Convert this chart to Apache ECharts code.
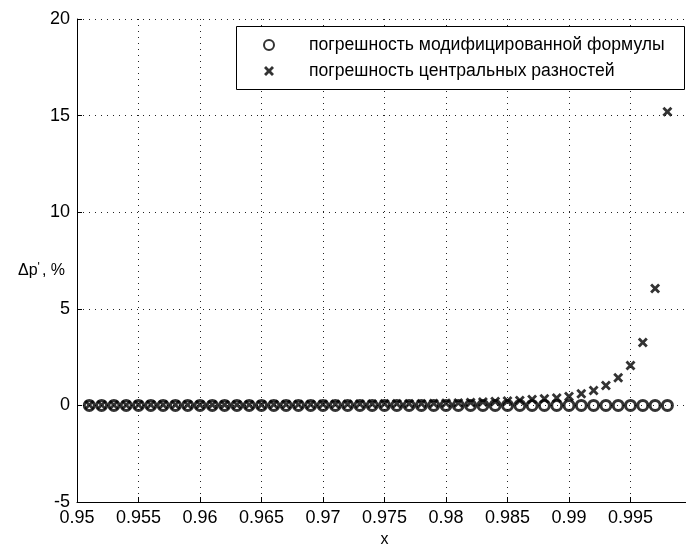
<!DOCTYPE html>
<html>
<head>
<meta charset="utf-8">
<script src="https://cdn.jsdelivr.net/npm/echarts@6/dist/echarts.min.js"></script>
<style>
  html, body { margin: 0; padding: 0; background: #fff; }
  #chart { width: 686px; height: 545px; }
</style>
</head>
<body>
<div id="chart"></div>
<script>
// Sample points
var xs = [
  0.951, 0.952, 0.953, 0.954, 0.955, 0.956, 0.957, 0.958, 0.959, 0.960,
  0.961, 0.962, 0.963, 0.964, 0.965, 0.966, 0.967, 0.968, 0.969, 0.970,
  0.971, 0.972, 0.973, 0.974, 0.975, 0.976, 0.977, 0.978, 0.979, 0.980,
  0.981, 0.982, 0.983, 0.984, 0.985, 0.986, 0.987, 0.988, 0.989, 0.990,
  0.991, 0.992, 0.993, 0.994, 0.995, 0.996, 0.997, 0.998
];

// Error of the modified formula, %
var errModified = [
  0, 0, 0, 0, 0, 0, 0, 0, 0, 0,
  0, 0, 0, 0, 0, 0, 0, 0, 0, 0,
  0, 0, 0, 0, 0, 0, 0, 0, 0, 0,
  0, 0, 0, 0, 0, 0, 0, 0, 0, 0,
  0, 0, 0, 0, 0, 0, 0, 0
];

// Error of central differences, %
var errCentral = [
  0.02, 0.02, 0.02, 0.02, 0.03, 0.03, 0.03, 0.03, 0.03, 0.03,
  0.04, 0.04, 0.04, 0.04, 0.04, 0.05, 0.05, 0.05, 0.05, 0.06,
  0.06, 0.06, 0.07, 0.07, 0.08, 0.08, 0.09, 0.09, 0.10, 0.11,
  0.13, 0.15, 0.17, 0.20, 0.23, 0.26, 0.30, 0.34, 0.38, 0.46,
  0.60, 0.77, 1.03, 1.43, 2.06, 3.26, 6.05, 15.2
];

var seriesNames = ['погрешность модифицированной формулы', 'погрешность центральных разностей'];

function pairs(xv, yv) {
  return xv.map(function (x, i) { return [x, yv[i]]; });
}

var FONT = 'Liberation Sans, Arial, sans-serif';
var crossPath = 'path://M0,2L2,0L5,3L8,0L10,2L7,5L10,8L8,10L5,7L2,10L0,8L3,5Z';

var chart = echarts.init(document.getElementById('chart'), null, { renderer: 'canvas' });

var dotted = { color: '#222', width: 1, type: [1, 5] };

chart.setOption({
  backgroundColor: '#ffffff',
  animation: false,
  grid: { left: 77, top: 19, width: 615, height: 483, outerBoundsMode: 'none', containLabel: false },
  xAxis: {
    type: 'value',
    min: 0.95, max: 1.0, interval: 0.005,
    name: 'x', nameLocation: 'middle', nameGap: 29,
    nameTextStyle: { color: '#000', fontFamily: FONT, fontSize: 16 },
    axisLine: { onZero: false, lineStyle: { color: '#000', width: 1 } },
    axisTick: { inside: true, length: 5, lineStyle: { color: '#000' } },
    axisLabel: {
      color: '#000', fontFamily: FONT, fontSize: 18, margin: 7,
      formatter: function (v) { return String(parseFloat(v.toFixed(3))); }
    },
    splitLine: { show: true, lineStyle: dotted }
  },
  yAxis: {
    type: 'value',
    min: -5, max: 20, interval: 5,
    axisLine: { show: true, onZero: false, lineStyle: { color: '#000', width: 1 } },
    axisTick: { show: true, inside: true, length: 5, lineStyle: { color: '#000' } },
    axisLabel: { color: '#000', fontFamily: FONT, fontSize: 18, margin: 7 },
    splitLine: { show: true, lineStyle: dotted }
  },
  legend: {
    orient: 'vertical',
    left: 263, top: 36,
    padding: 0,
    itemWidth: 24, itemHeight: 10, itemGap: 8,
    textStyle: { color: '#000', fontFamily: FONT, fontSize: 17.6, padding: [0, 0, 0, 23] },
    data: seriesNames
  },
  graphic: [
    {
      type: 'rect', left: 236, top: 26, z: 1, silent: true,
      shape: { width: 448, height: 63 },
      style: { fill: '#fff', stroke: '#000', lineWidth: 1 }
    },
    {
      type: 'text', left: 18, top: 262, z: 5,
      style: {
        text: '{b|Δp}{s|\'}{b|, %}',
        rich: {
          b: { fontFamily: FONT, fontSize: 16, fill: '#000' },
          s: { fontFamily: FONT, fontSize: 12, fill: '#000', verticalAlign: 'top', padding: [0, 2, 6, 0] }
        }
      }
    }
  ],
  series: [
    {
      name: seriesNames[0],
      type: 'scatter',
      data: pairs(xs, errModified),
      symbol: 'circle',
      symbolSize: 10,
      itemStyle: { color: 'rgba(255,255,255,0)', borderColor: '#000', borderWidth: 3 },
      z: 3
    },
    {
      name: seriesNames[1],
      type: 'scatter',
      data: pairs(xs, errCentral),
      symbol: crossPath,
      symbolSize: 10,
      itemStyle: { color: '#000' },
      z: 4
    }
  ]
});
</script>
</body>
</html>
